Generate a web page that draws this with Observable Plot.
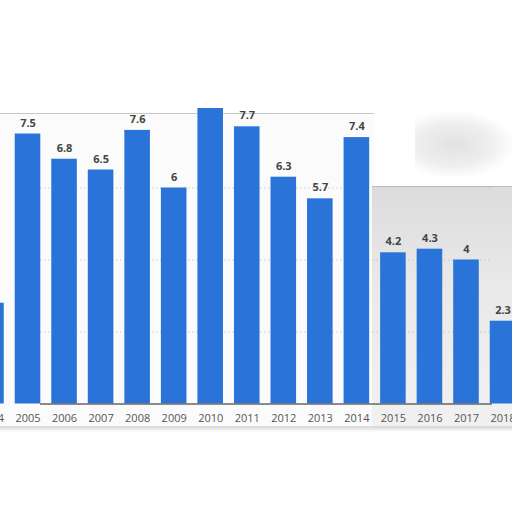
<!DOCTYPE html>
<html>
<head>
<meta charset="utf-8">
<script src="https://cdn.jsdelivr.net/npm/d3@7"></script>
<script src="https://cdn.jsdelivr.net/npm/@observablehq/plot@0.6"></script>
<style>
  html, body { margin: 0; padding: 0; background: #fff; }
  #wrap { position: relative; width: 512px; height: 512px; overflow: hidden; background: #fff; }
  #panelL { position: absolute; left: 0; top: 113px; width: 374px; height: 315px;
            background: #fbfbfb; border-top: 1.5px solid #c8c8c8; }
  #panelR { position: absolute; left: 372px; top: 186px; width: 140px; height: 242px;
            background: linear-gradient(180deg, #dcdcdc 0%, #e9e9e9 40%, #f1f1f1 100%);
            border-top: 1.5px solid #bdbdbd; }
  #smudge { position: absolute; left: 415px; top: 112px; width: 97px; height: 65px;
            background: radial-gradient(ellipse at 40% 50%, #e2e2e2 0%, #eeeeee 45%, rgba(255,255,255,0) 75%); }
  #shadow { position: absolute; left: 0; top: 426px; width: 512px; height: 6px;
            background: linear-gradient(180deg, #d6d6d6, rgba(255,255,255,0)); }
  #chart { position: absolute; left: 0; top: 108px; }
</style>
</head>
<body>
<div id="wrap">
  <div id="panelL"></div>
  <div id="panelR"></div>
  <div id="smudge"></div>
  <div id="shadow"></div>
  <div id="chart"></div>
</div>
<script>
const years  = ["2004","2005","2006","2007","2008","2009","2010","2011","2012","2013","2014","2015","2016","2017","2018"];
const values = [2.8, 7.5, 6.8, 6.5, 7.6, 6, 8.4, 7.7, 6.3, 5.7, 7.4, 4.2, 4.3, 4, 2.3];
const gridTicks = [2, 4, 6];

const data = years.map((y, i) => ({year: y, value: values[i]}));

const chart = Plot.plot({
  width: 512,
  height: 324,
  style: {background: "transparent", overflow: "hidden", fontFamily: "'Open Sans', sans-serif"},
  x: {type: "band", domain: years, range: [-27.3, 520.8], paddingInner: 0.3, paddingOuter: 0.15, align: 0.5, round: false},
  y: {domain: [0, 8.2], range: [295.5, 0.3]},
  marks: [
    Plot.ruleY(gridTicks, {stroke: "#c9c9c9", strokeDasharray: "1.5,2.5", strokeWidth: 1}),
    Plot.barY(data, {x: "year", y: "value", fill: "#2a74d9"}),
    Plot.ruleY([0], {stroke: "#666", strokeWidth: 1.6}),
    Plot.text(data, {x: "year", y: "value", text: d => String(d.value), dy: -11,
      fill: "#444", fontWeight: "bold", fontSize: 11}),
    Plot.axisX({tickSize: 0, tickPadding: 12, fontSize: 11, color: "#555", label: null}),
    Plot.axisY({ticks: [], label: null})
  ]
});
document.getElementById("chart").appendChild(chart);
</script>
</body>
</html>
